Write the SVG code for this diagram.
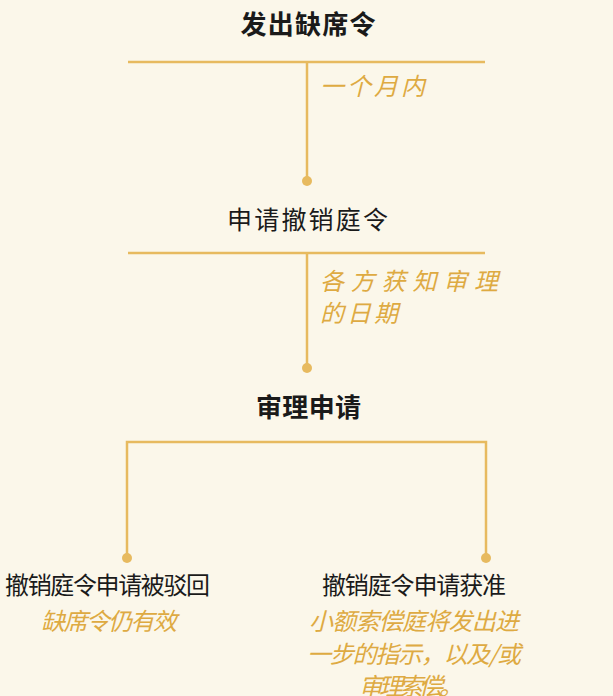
<svg xmlns="http://www.w3.org/2000/svg" width="613" height="696" viewBox="0 0 613 696">
<style>
.node{font-family:"Noto Sans CJK SC","Noto Sans",sans-serif;font-size:25px;fill:#1a1a1a;text-anchor:middle}
.s{font-size:24px}
.b{font-weight:bold;font-size:26px}
.lbl{font-family:"Noto Sans CJK SC","Noto Sans",sans-serif;font-size:24px;font-style:italic;fill:#DEAA42}
.c{text-anchor:middle}
.ln{stroke:#E7BA5F;stroke-width:2.5;fill:none}
.dot{fill:#E7BA5F}
</style>
<rect width="613" height="696" fill="#FBF7EA"/>
<g id="connectors">
<line class="ln" x1="128" y1="62" x2="485" y2="62"/>
<line class="ln" x1="307" y1="62" x2="307" y2="181"/>
<circle class="dot" cx="307" cy="181" r="5"/>
<line class="ln" x1="128" y1="253" x2="485" y2="253"/>
<line class="ln" x1="307" y1="253" x2="307" y2="368"/>
<circle class="dot" cx="307" cy="368" r="5"/>
<polyline class="ln" points="127,558 127,442 486,442 486,558"/>
<circle class="dot" cx="127" cy="558" r="5"/>
<circle class="dot" cx="486" cy="558" r="5"/>
<text class="lbl" x="320" y="95" textLength="105" lengthAdjust="spacing">一个月内</text>
<text class="lbl" x="320" y="290" textLength="178" lengthAdjust="spacing">各方获知审理</text>
<text class="lbl" x="320" y="322" textLength="78" lengthAdjust="spacing">的日期</text>
</g>
<g id="n1"><text class="node b" x="308" y="34" textLength="135" lengthAdjust="spacing">发出缺席令</text></g>
<g id="n2"><text class="node" x="307.5" y="229" textLength="161" lengthAdjust="spacing">申请撤销庭令</text></g>
<g id="n3"><text class="node b" x="308.5" y="417" textLength="105" lengthAdjust="spacing">审理申请</text></g>
<g id="n4"><text class="node s" x="107.5" y="594" textLength="205" lengthAdjust="spacing">撤销庭令申请被驳回</text>
<text class="lbl c" x="109" y="630" textLength="136" lengthAdjust="spacing">缺席令仍有效</text></g>
<g id="n5"><text class="node s" x="414" y="594" textLength="184" lengthAdjust="spacing">撤销庭令申请获准</text>
<text class="lbl c" x="414" y="630" textLength="210" lengthAdjust="spacing">小额索偿庭将发出进</text>
<text class="lbl c" x="414" y="663" textLength="214" lengthAdjust="spacing">一步的指示，以及/或</text>
<text class="lbl c" x="411" y="695" textLength="104" lengthAdjust="spacing">审理索偿。</text></g>
</svg>
